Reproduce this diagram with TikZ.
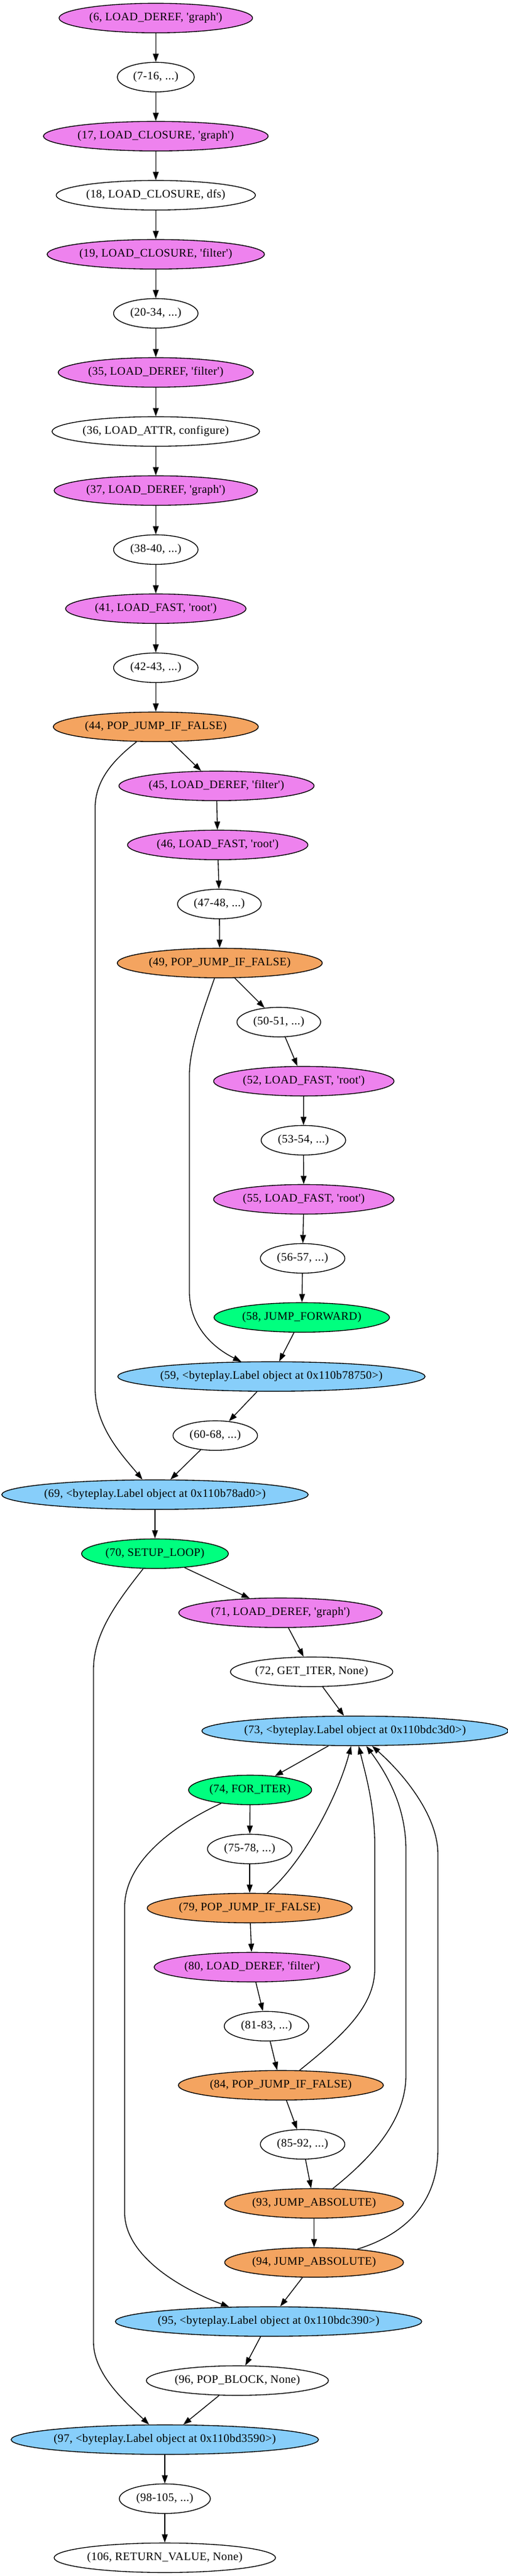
\documentclass[tikz,border=0pt]{standalone}
\usepackage{fontspec}
\setmainfont{Liberation Serif}[Ligatures=TeXOff,LetterSpace=2]
\usetikzlibrary{arrows.meta,shapes.geometric}
\definecolor{gvviolet}{HTML}{EE82EE}
\definecolor{gvsandy}{HTML}{F4A460}
\definecolor{gvgreen}{HTML}{00FF7F}
\definecolor{gvblue}{HTML}{87CEFA}
\begin{document}
\begin{tikzpicture}[x=1pt,y=-1pt,
  nd/.style={ellipse,draw,line width=1pt,inner xsep=-3pt,inner ysep=0pt,
    minimum height=36pt,minimum width=#1,font=\fontsize{14}{16}\selectfont},
  vio/.style={fill=gvviolet},
  org/.style={fill=gvsandy},
  grn/.style={fill=gvgreen},
  blu/.style={fill=gvblue},
  wht/.style={fill=white},
  ar/.style={-{Triangle[length=10pt,width=7pt]},line width=1pt}]
\path[fill=white] (0,0) rectangle (618.75,3140.25);
\useasboundingbox (0,0) rectangle (618.75,3140.25);

\node[nd=236pt,vio] (n6) at (190,22) {(6, LOAD\_DEREF, 'graph')};
\node[nd=94pt,wht] (n7) at (190,94) {(7-16, ...)};
\node[nd=274pt,vio] (n17) at (190,166) {(17, LOAD\_CLOSURE, 'graph')};
\node[nd=243pt,wht] (n18) at (190,238) {(18, LOAD\_CLOSURE, dfs)};
\node[nd=265pt,vio] (n19) at (190,310) {(19, LOAD\_CLOSURE, 'filter')};
\node[nd=103pt,wht] (n20) at (190,382) {(20-34, ...)};
\node[nd=238pt,vio] (n35) at (190,454) {(35, LOAD\_DEREF, 'filter')};
\node[nd=253pt,wht] (n36) at (190,526) {(36, LOAD\_ATTR, configure)};
\node[nd=248pt,vio] (n37) at (190,598) {(37, LOAD\_DEREF, 'graph')};
\node[nd=103pt,wht] (n38) at (190,670) {(38-40, ...)};
\node[nd=220pt,vio] (n41) at (190,742) {(41, LOAD\_FAST, 'root')};
\node[nd=103pt,wht] (n42) at (190,814) {(42-43, ...)};
\node[nd=250pt,org] (n44) at (190,886) {(44, POP\_JUMP\_IF\_FALSE)};
\node[nd=238pt,vio] (n45) at (264,958) {(45, LOAD\_DEREF, 'filter')};
\node[nd=220pt,vio] (n46) at (265.5,1030) {(46, LOAD\_FAST, 'root')};
\node[nd=102pt,wht] (n47) at (267.5,1102) {(47-48, ...)};
\node[nd=250pt,org] (n49) at (268,1174) {(49, POP\_JUMP\_IF\_FALSE)};
\node[nd=102pt,wht] (n50) at (340,1246) {(50-51, ...)};
\node[nd=220pt,vio] (n52) at (370.5,1318) {(52, LOAD\_FAST, 'root')};
\node[nd=103pt,wht] (n53) at (370,1390) {(53-54, ...)};
\node[nd=220pt,vio] (n55) at (370.5,1462) {(55, LOAD\_FAST, 'root')};
\node[nd=103pt,wht] (n56) at (369,1534) {(56-57, ...)};
\node[nd=214pt,grn] (n58) at (368,1606) {(58, JUMP\_FORWARD)};
\node[nd=373pt,blu] (n59) at (331,1678) {(59, <byteplay.Label object at 0x110b78750>)};
\node[nd=103pt,wht] (n60) at (262.5,1750) {(60-68, ...)};
\node[nd=371pt,blu] (n69) at (189,1822) {(69, <byteplay.Label object at 0x110b78ad0>)};
\node[nd=179pt,grn] (n70) at (189,1894) {(70, SETUP\_LOOP)};
\node[nd=248pt,vio] (n71) at (342,1966) {(71, LOAD\_DEREF, 'graph')};
\node[nd=198pt,wht] (n72) at (380,2038) {(72, GET\_ITER, None)};
\node[nd=371pt,blu] (n73) at (433,2110) {(73, <byteplay.Label object at 0x110bdc3d0>)};
\node[nd=150pt,grn] (n74) at (305,2182) {(74, FOR\_ITER)};
\node[nd=103pt,wht] (n75) at (304.5,2254) {(75-78, ...)};
\node[nd=250pt,org] (n79) at (304.5,2326) {(79, POP\_JUMP\_IF\_FALSE)};
\node[nd=239pt,vio] (n80) at (307.5,2398) {(80, LOAD\_DEREF, 'filter')};
\node[nd=103pt,wht] (n81) at (325,2470) {(81-83, ...)};
\node[nd=250pt,org] (n84) at (342.5,2542) {(84, POP\_JUMP\_IF\_FALSE)};
\node[nd=103pt,wht] (n85) at (369,2614) {(85-92, ...)};
\node[nd=218pt,org] (n93) at (383,2686) {(93, JUMP\_ABSOLUTE)};
\node[nd=218pt,org] (n94) at (383,2758) {(94, JUMP\_ABSOLUTE)};
\node[nd=371pt,blu] (n95) at (327.5,2830) {(95, <byteplay.Label object at 0x110bdc390>)};
\node[nd=222pt,wht] (n96) at (289.5,2902) {(96, POP\_BLOCK, None)};
\node[nd=372pt,blu] (n97) at (201,2974) {(97, <byteplay.Label object at 0x110bd3590>)};
\node[nd=111pt,wht] (n98) at (201,3046) {(98-105, ...)};
\node[nd=270pt,wht] (n106) at (201,3118) {(106, RETURN\_VALUE, None)};

\foreach \a/\b in {n6/n7,n7/n17,n17/n18,n18/n19,n19/n20,n20/n35,n35/n36,n36/n37,
  n37/n38,n38/n41,n41/n42,n42/n44,n44/n45,n45/n46,n46/n47,n47/n49,n49/n50,
  n50/n52,n52/n53,n53/n55,n55/n56,n56/n58,n58/n59,n59/n60,n60/n69,n69/n70,
  n70/n71,n71/n72,n72/n73,n73/n74,n74/n75,n75/n79,n79/n80,n80/n81,n81/n84,
  n84/n85,n85/n93,n93/n94,n94/n95,n95/n96,n96/n97,n97/n98,n98/n106}
  \draw[ar] (\a) -- (\b);

\draw[ar] (n44) .. controls (140,925) and (116,950) .. (116,985) -- (116,1692)
  .. controls (116,1740) and (150,1775) .. (n69);
\draw[ar] (n49) .. controls (245,1240) and (231,1280) .. (231,1310) -- (231,1575)
  .. controls (231,1615) and (258,1642) .. (n59);
\draw[ar] (n70) .. controls (145,1950) and (114,1990) .. (114,2035) -- (114,2855)
  .. controls (114,2895) and (155,2930) .. (n97);
\draw[ar] (n74) .. controls (210,2226) and (152,2270) .. (152,2325) -- (152,2697)
  .. controls (152,2750) and (220,2790) .. (n95);
\draw[ar] (n79) .. controls (370,2270) and (412,2190) .. (n73);
\draw[ar] (n84) .. controls (420,2480) and (457,2445) .. (457,2400) -- (457,2250)
  .. controls (457,2200) and (445,2160) .. (n73);
\draw[ar] (n93) .. controls (460,2625) and (495,2580) .. (495,2530) -- (495,2255)
  .. controls (495,2200) and (470,2160) .. (n73);
\draw[ar] (n94) .. controls (500,2722) and (534,2680) .. (534,2620) -- (534,2260)
  .. controls (534,2215) and (495,2165) .. (n73);
\end{tikzpicture}
\end{document}
